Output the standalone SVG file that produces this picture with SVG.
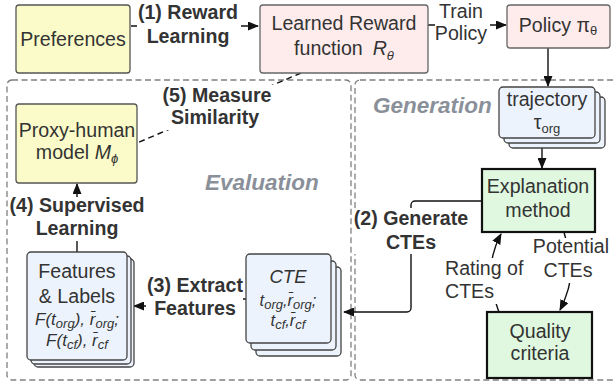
<svg xmlns="http://www.w3.org/2000/svg" width="616" height="383" viewBox="0 0 616 383">
<style>
.t{font-family:"Liberation Sans",Arial,sans-serif;font-size:19.6px;fill:#333;text-anchor:middle}
.b{font-weight:bold}
.i{font-style:italic}
.s{font-size:13px}
.sec{font-family:"Liberation Sans",Arial,sans-serif;font-size:22.5px;font-weight:bold;font-style:italic;fill:#8a9099}
.cont{fill:none;stroke:#808080;stroke-width:1.3;stroke-dasharray:6 3.5}
.yel{fill:#fbfbc9;stroke:#555;stroke-width:1.3}
.pink{fill:#fdeceb;stroke:#666;stroke-width:1.3}
.blue{fill:#edf3fd;stroke:#444;stroke-width:1.3}
.grn{fill:#e0f8e0;stroke:#111;stroke-width:2.2}
.c{fill:none;stroke:#111;stroke-width:1.4}
.bg{fill:#fff}
</style>
<defs>
<marker id="ah" markerUnits="userSpaceOnUse" markerWidth="11" markerHeight="9" refX="10" refY="4.5" orient="auto">
<path d="M0,0 L11,4.5 L0,9 z" fill="#111"/>
</marker>
</defs>

<g id="containers">
<rect class="cont" x="7" y="80" width="344" height="300" rx="5"/>
<rect class="cont" x="355" y="80" width="264" height="300" rx="5"/>
<text class="sec" x="205" y="190">Evaluation</text>
<text class="sec" x="373" y="113">Generation</text>
</g>

<g id="connectors">
<path class="c" d="M131 26 H258" marker-end="url(#ah)"/>
<path class="c" d="M428 25 H506" marker-end="url(#ah)"/>
<path class="c" d="M548 48 V86" marker-end="url(#ah)"/>
<path class="c" d="M542 147 V168" marker-end="url(#ah)"/>
<path class="c" d="M482 201 H415 A4 4 0 0 0 411 205 V308 A4 4 0 0 1 407 312 H344" marker-end="url(#ah)"/>
<path class="c" d="M247 299 H195 V306 H134" marker-end="url(#ah)"/>
<path class="c" d="M77 252 V184" marker-end="url(#ah)"/>
<path class="c" d="M499 312 C494 298 482 270 501 234" marker-end="url(#ah)"/>
<path class="c" d="M564 232 C568 250 580 270 560 310" marker-end="url(#ah)"/>
<path class="c" d="M301 73 L137 143" stroke-dasharray="6 4" stroke-width="1.5"/>
</g>

<g id="labels">
<rect class="bg" x="137" y="2" width="104" height="47"/>
<text class="t b" x="188" y="19">(1) Reward</text>
<text class="t b" x="188" y="43">Learning</text>
<rect class="bg" x="435" y="2" width="55" height="44"/>
<text class="t" x="461" y="18">Train</text>
<text class="t" x="461" y="40">Policy</text>
<rect class="bg" x="161" y="85" width="115" height="45"/>
<text class="t b" x="217" y="102">(5) Measure</text>
<text class="t b" x="215" y="124">Similarity</text>
<rect class="bg" x="11" y="197" width="132" height="44"/>
<text class="t b" x="77" y="212">(4) Supervised</text>
<text class="t b" x="77" y="235">Learning</text>
<rect class="bg" x="146" y="276" width="97" height="45"/>
<text class="t b" x="195" y="292">(3) Extract</text>
<text class="t b" x="195" y="315">Features</text>
<rect class="bg" x="352" y="208" width="119" height="46"/>
<text class="t b" x="411" y="225">(2) Generate</text>
<text class="t b" x="411" y="249">CTEs</text>
<rect class="bg" x="443" y="258" width="85" height="46"/>
<text class="t" x="445" y="275" style="text-anchor:start">Rating of</text>
<text class="t" x="445" y="298" style="text-anchor:start">CTEs</text>
<rect class="bg" x="533" y="238" width="79" height="45"/>
<text class="t" x="571" y="253">Potential</text>
<text class="t" x="568" y="277">CTEs</text>
</g>

<g id="preferences">
<rect class="yel" x="16" y="5" width="114" height="68" rx="3"/>
<text class="t" x="73" y="46">Preferences</text>
</g>

<g id="reward">
<rect class="pink" x="260" y="5" width="168" height="68" rx="3"/>
<text class="t" x="344" y="30">Learned Reward</text>
<text class="t" x="344" y="55">function<tspan class="i" dx="10">R</tspan><tspan class="i s" dy="5">θ</tspan></text>
</g>

<g id="policy">
<rect class="pink" x="507" y="5" width="103" height="43" rx="3"/>
<text class="t" x="558" y="32">Policy π<tspan class="s" dy="3">θ</tspan></text>
</g>

<g id="trajectory">
<rect class="blue" x="509" y="97" width="96" height="51" rx="4"/>
<rect class="blue" x="504" y="92" width="96" height="51" rx="4"/>
<rect class="blue" x="499" y="87" width="96" height="51" rx="4"/>
<text class="t" x="547" y="106">trajectory</text>
<text class="t" x="547" y="129">τ<tspan class="s" dy="4">org</tspan></text>
</g>

<g id="explanation">
<rect class="grn" x="482" y="169" width="113" height="63"/>
<text class="t" x="538" y="193">Explanation</text>
<text class="t" x="538" y="217">method</text>
</g>

<g id="quality">
<rect class="grn" x="487" y="312" width="105" height="66"/>
<text class="t" x="540" y="338">Quality</text>
<text class="t" x="540" y="360">criteria</text>
</g>

<g id="proxy">
<rect class="yel" x="16" y="104" width="121" height="79" rx="3"/>
<text class="t" x="77" y="137">Proxy-human</text>
<text class="t" x="77" y="159">model <tspan class="i">M</tspan><tspan class="i s" dy="4">ϕ</tspan></text>
</g>

<g id="features">
<rect class="blue" x="34" y="259" width="100" height="108" rx="4"/>
<rect class="blue" x="31" y="256" width="100" height="108" rx="4"/>
<rect class="blue" x="27" y="252" width="100" height="108" rx="4"/>
<text class="t" x="77" y="278">Features</text>
<text class="t" x="77" y="303">&amp; Labels</text>
<text class="t i" x="77" y="325" style="font-size:17px">F(t<tspan class="s" dy="3">org</tspan><tspan dy="-3">), r̄</tspan><tspan class="s" dy="3">org</tspan><tspan dy="-3">;</tspan></text>
<text class="t i" x="77" y="346" style="font-size:17px">F(t<tspan class="s" dy="3">cf</tspan><tspan dy="-3">), r̄</tspan><tspan class="s" dy="3">cf</tspan></text>
</g>

<g id="cte">
<rect class="blue" x="256" y="267" width="85" height="89" rx="4"/>
<rect class="blue" x="251" y="261" width="85" height="89" rx="4"/>
<rect class="blue" x="246" y="254" width="85" height="89" rx="4"/>
<text class="t i" x="288" y="283" style="font-size:18.5px">CTE</text>
<text class="t i" x="288" y="306" style="font-size:16.5px">t<tspan class="s" dy="3">org</tspan><tspan dy="-3">,r̄</tspan><tspan class="s" dy="3">org</tspan><tspan dy="-3">;</tspan></text>
<text class="t i" x="288" y="326" style="font-size:16.5px">t<tspan class="s" dy="3">cf</tspan><tspan dy="-3">,r̄</tspan><tspan class="s" dy="3">cf</tspan></text>
</g>
</svg>
